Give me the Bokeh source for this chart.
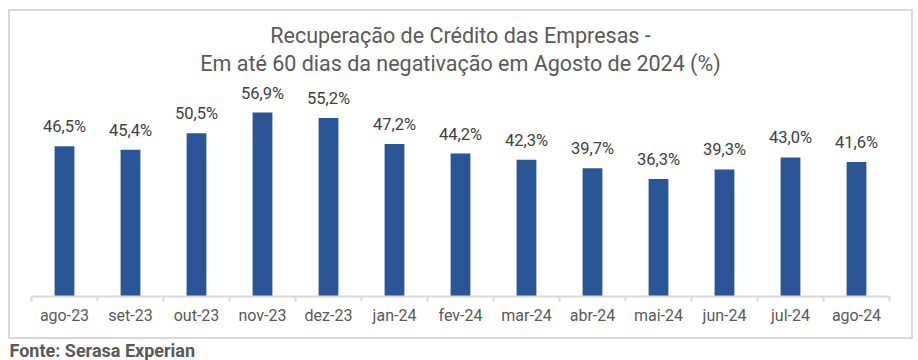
from bokeh.plotting import figure
from bokeh.models import Range1d, FixedTicker, LabelSet, ColumnDataSource, Title
from bokeh.core.properties import value
from bokeh.layouts import column
from bokeh.embed import file_html
from bokeh.resources import INLINE

categories = ["ago-23", "set-23", "out-23", "nov-23", "dez-23", "jan-24", "fev-24",
              "mar-24", "abr-24", "mai-24", "jun-24", "jul-24", "ago-24"]
values = [46.5, 45.4, 50.5, 56.9, 55.2, 47.2, 44.2, 42.3, 39.7, 36.3, 39.3, 43.0, 41.6]
title_lines = ["Recuperação de Crédito das Empresas -",
               "Em até 60 dias da negativação em Agosto de 2024 (%)"]
source_text = "Fonte: Serasa Experian"

n = len(categories)
xs = list(range(n))
labels = [f"{v:.1f}%".replace(".", ",") for v in values]
src = ColumnDataSource(dict(x=xs, top=values, label=labels))

FONT = "Roboto"

p = figure(width=905, height=330, x_range=Range1d(-0.5, n - 0.5), y_range=Range1d(0, 66.8),
           output_backend="svg", toolbar_location=None, y_axis_location=None,
           min_border_left=21, min_border_right=26, min_border_top=69, min_border_bottom=45)
p.styles = {"border": "2px solid #d9d9d9", "box-sizing": "border-box"}
p.outline_line_color = None
p.xgrid.visible = False
p.ygrid.visible = False

standoffs = [9, -6]  # nearest-to-plot line first
for line, so in zip(reversed(title_lines), standoffs):
    t = Title(text=line, align="center", text_font=FONT, text_font_size="21.5px",
              text_font_style="normal", text_color="#595959", standoff=so, offset=0)
    p.add_layout(t, "above")

p.vbar(x="x", top="top", width=0.3, source=src, fill_color="#2a5596", line_color=None)

p.add_layout(LabelSet(x="x", y="top", text="label", source=src, text_align="center",
                      text_baseline="alphabetic", y_offset=14, text_font=value(FONT),
                      text_font_size=value("16.5px"), text_color="#404040"))

ax = p.xaxis[0]
ax.ticker = FixedTicker(ticks=xs, minor_ticks=[i - 0.5 for i in range(n + 1)])
ax.major_label_overrides = {i: c for i, c in enumerate(categories)}
ax.axis_line_color = "#d9d9d9"
ax.axis_line_width = 2
ax.major_tick_out = 0
ax.major_tick_in = 0
ax.minor_tick_out = 5
ax.minor_tick_in = 0
ax.minor_tick_line_color = "#d9d9d9"
ax.minor_tick_line_width = 2
ax.major_label_text_font = FONT
ax.major_label_text_font_size = "16px"
ax.major_label_text_color = "#595959"
ax.major_label_standoff = 4

f = figure(width=905, height=21, output_backend="svg", toolbar_location=None,
           x_axis_location=None, y_axis_location=None,
           min_border=0, min_border_left=0, min_border_right=0, min_border_top=0,
           min_border_bottom=0, outline_line_color=None,
           x_range=Range1d(0, 1), y_range=Range1d(0, 1))
f.grid.visible = False
f.title.text = source_text
f.title.align = "left"
f.title.text_font = FONT
f.title.text_font_size = "18px"
f.title.text_font_style = "bold"
f.title.text_color = "#595959"
f.title.offset = -20
f.title.standoff = 0

layout = column(p, f, spacing=0, margin=(9, 0, 0, 8))
open("out.html", "w").write(file_html(layout, INLINE))
